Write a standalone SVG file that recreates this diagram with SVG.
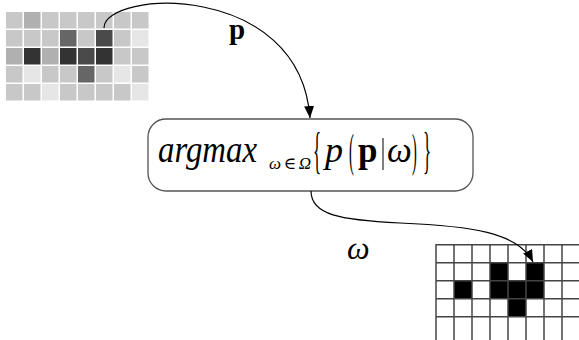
<svg xmlns="http://www.w3.org/2000/svg" width="579" height="340" viewBox="0 0 579 340">
<style>
.m{font-family:"Liberation Serif","DejaVu Serif",serif;fill:#000}
.it{font-style:italic}
.b{font-weight:bold}
.g{stroke:#444;stroke-width:1.5}
.conn{fill:none;stroke:#000;stroke-width:1.2}
.c1{fill:#c8c8c8}.c2{fill:#b0b0b0}.c3{fill:#e6e6e6}.c4{fill:#666}.c5{fill:#4a4a4a}.c6{fill:#333}
</style>
<defs>
<marker id="ah" viewBox="0 0 12 10" refX="12" refY="5" markerWidth="12" markerHeight="10" markerUnits="userSpaceOnUse" orient="auto">
<path d="M0,0 L12,5 L0,10 Z" fill="#000"/>
</marker>
</defs>
<rect width="579" height="340" fill="#fff"/>
<g id="input-image">
<rect x="6" y="12" width="16.5" height="16.5" class="c1"/><rect x="24" y="12" width="16.5" height="16.5" class="c2"/><rect x="42" y="12" width="16.5" height="16.5" class="c1"/><rect x="60" y="12" width="16.5" height="16.5" class="c1"/><rect x="78" y="12" width="16.5" height="16.5" class="c1"/><rect x="96" y="12" width="16.5" height="16.5" class="c1"/><rect x="114" y="12" width="16.5" height="16.5" class="c1"/><rect x="132" y="12" width="16.5" height="16.5" class="c1"/>
<rect x="6" y="30" width="16.5" height="16.5" class="c1"/><rect x="24" y="30" width="16.5" height="16.5" class="c1"/><rect x="42" y="30" width="16.5" height="16.5" class="c1"/><rect x="60" y="30" width="16.5" height="16.5" class="c4"/><rect x="78" y="30" width="16.5" height="16.5" class="c1"/><rect x="96" y="30" width="16.5" height="16.5" class="c5"/><rect x="114" y="30" width="16.5" height="16.5" class="c1"/><rect x="132" y="30" width="16.5" height="16.5" class="c3"/>
<rect x="6" y="48" width="16.5" height="16.5" class="c2"/><rect x="24" y="48" width="16.5" height="16.5" class="c6"/><rect x="42" y="48" width="16.5" height="16.5" class="c2"/><rect x="60" y="48" width="16.5" height="16.5" class="c6"/><rect x="78" y="48" width="16.5" height="16.5" class="c5"/><rect x="96" y="48" width="16.5" height="16.5" class="c6"/><rect x="114" y="48" width="16.5" height="16.5" class="c1"/><rect x="132" y="48" width="16.5" height="16.5" class="c1"/>
<rect x="6" y="66" width="16.5" height="16.5" class="c1"/><rect x="24" y="66" width="16.5" height="16.5" class="c3"/><rect x="42" y="66" width="16.5" height="16.5" class="c1"/><rect x="60" y="66" width="16.5" height="16.5" class="c1"/><rect x="78" y="66" width="16.5" height="16.5" class="c4"/><rect x="96" y="66" width="16.5" height="16.5" class="c1"/><rect x="114" y="66" width="16.5" height="16.5" class="c3"/><rect x="132" y="66" width="16.5" height="16.5" class="c1"/>
<rect x="6" y="84" width="16.5" height="16.5" class="c1"/><rect x="24" y="84" width="16.5" height="16.5" class="c1"/><rect x="42" y="84" width="16.5" height="16.5" class="c3"/><rect x="60" y="84" width="16.5" height="16.5" class="c1"/><rect x="78" y="84" width="16.5" height="16.5" class="c1"/><rect x="96" y="84" width="16.5" height="16.5" class="c1"/><rect x="114" y="84" width="16.5" height="16.5" class="c1"/><rect x="132" y="84" width="16.5" height="16.5" class="c3"/>
</g>
<g id="argmax-box">
<rect x="148" y="119" width="325" height="72" rx="18" ry="18" fill="#fff" stroke="#555" stroke-width="1.3"/>
<text class="m it" x="158" y="162" font-size="38" textLength="99" lengthAdjust="spacingAndGlyphs">argmax</text>
<text class="m it" x="269" y="169" font-size="17" textLength="42" lengthAdjust="spacing">ω∈Ω</text>
<text class="m" transform="translate(313,167) scale(0.5,1.5)" font-size="34">{</text>
<text class="m it" x="325" y="162" font-size="36">p</text>
<text class="m" transform="translate(349,166) scale(0.45,1.42)" font-size="32">(</text>
<text class="m b" x="358" y="162" font-size="35">p</text>
<line x1="383" y1="138" x2="383" y2="170" stroke="#000" stroke-width="1"/>
<text class="m it" x="387" y="162" font-size="35">ω</text>
<text class="m" transform="translate(412,166) scale(0.45,1.42)" font-size="32">)</text>
<text class="m" transform="translate(423,167) scale(0.5,1.5)" font-size="34">}</text>
</g>
<g id="output-image">
<rect x="490" y="262.7" width="18" height="18" fill="#000"/>
<rect x="526" y="262.7" width="18" height="18" fill="#000"/>
<rect x="454" y="280.7" width="18" height="18" fill="#000"/>
<rect x="490" y="280.7" width="54" height="18" fill="#000"/>
<rect x="508" y="298.7" width="18" height="18" fill="#000"/>
<g class="g">
<line x1="436" y1="244" x2="436" y2="340"/><line x1="454" y1="244" x2="454" y2="340"/><line x1="472" y1="244" x2="472" y2="340"/><line x1="490" y1="244" x2="490" y2="340"/><line x1="508" y1="244" x2="508" y2="340"/><line x1="526" y1="244" x2="526" y2="340"/><line x1="544" y1="244" x2="544" y2="340"/><line x1="562" y1="244" x2="562" y2="340"/>
<line x1="436" y1="244.7" x2="579" y2="244.7"/><line x1="436" y1="262.7" x2="579" y2="262.7"/><line x1="436" y1="280.7" x2="579" y2="280.7"/><line x1="436" y1="298.7" x2="579" y2="298.7"/><line x1="436" y1="316.7" x2="579" y2="316.7"/>
</g>
</g>
<g id="connectors">
<path class="conn" d="M104,28 C104,-10 300,-20 310,118" marker-end="url(#ah)"/>
<path class="conn" d="M311,191 C311,215 340,220 400,223 C470,226 518,232 533,262" marker-end="url(#ah)"/>
<text class="m b" x="229" y="39" font-size="29">p</text>
<text class="m it" x="347" y="259" font-size="32">ω</text>
</g>
</svg>
